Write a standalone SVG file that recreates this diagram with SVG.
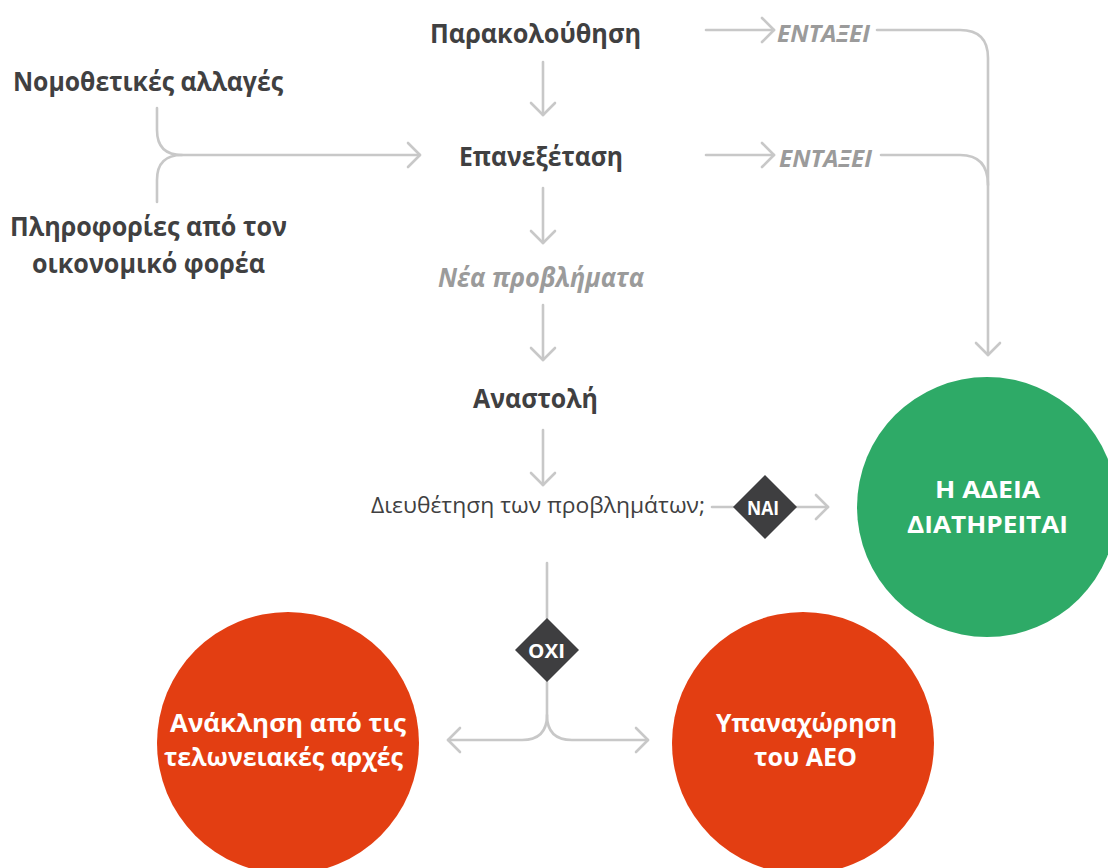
<svg xmlns="http://www.w3.org/2000/svg" width="1108" height="868" viewBox="0 0 1108 868">
<defs>
<marker id="chev" markerUnits="userSpaceOnUse" markerWidth="30" markerHeight="30" viewBox="-15 -15 30 30" refX="0" refY="0" orient="auto">
<path d="M-12,-12 L0,0 L-12,12" fill="none" stroke="#c8c8c8" stroke-width="2.6" stroke-linecap="round" stroke-linejoin="round"/>
</marker>
<style>
text{font-family:"Open Sans","Noto Sans",sans-serif}
.lbl{font-weight:bold;font-size:27px;fill:#404041;text-anchor:middle}
.gray{font-weight:bold;font-style:italic;fill:#9b9b9b}
.reg{font-size:22.5px;fill:#404041}
.wt{font-weight:bold;font-size:25px;fill:#ffffff;text-anchor:middle}
.wg{font-weight:bold;font-size:24px;fill:#ffffff;text-anchor:middle}
.dt{font-weight:bold;font-size:19px;fill:#ffffff;text-anchor:middle}
.ln{fill:none;stroke:#c8c8c8;stroke-width:2.6;stroke-linecap:round}
.arr{marker-end:url(#chev)}
</style>
</defs>
<rect width="1108" height="868" fill="#ffffff"/>

<g id="connectors">
<path class="ln arr" d="M543,62 V115"/>
<path class="ln arr" d="M543,188 V243"/>
<path class="ln arr" d="M543,305 V360"/>
<path class="ln arr" d="M543,430 V485"/>
<path class="ln arr" d="M157,108 V130 Q157,155 182,155 H420"/>
<path class="ln" d="M157,202 V180 Q157,155 182,155"/>
<path class="ln arr" d="M706,30 H774"/>
<path class="ln arr" d="M877,30 H960 Q988,30 988,58 V355"/>
<path class="ln arr" d="M706,155 H774"/>
<path class="ln" d="M881,155 H960 Q988,155 988,185"/>
<path class="ln" d="M712,507 H733"/>
<path class="ln arr" d="M795,507 H828"/>
<path class="ln" d="M547,563 V618"/>
<path class="ln arr" d="M547,682 V715 Q547,740 522,740 H448"/>
<path class="ln arr" d="M547,715 Q547,740 572,740 H648"/>
</g>

<g id="n-parakolouthisi"><text class="lbl" x="535.5" y="43" textLength="211" lengthAdjust="spacingAndGlyphs">Παρακολούθηση</text></g>
<g id="n-nomothetikes"><text class="lbl" x="148" y="91" textLength="270" lengthAdjust="spacingAndGlyphs">Νομοθετικές αλλαγές</text></g>
<g id="n-plirofories"><text class="lbl" x="148.5" y="236" textLength="277" lengthAdjust="spacingAndGlyphs">Πληροφορίες από τον</text><text class="lbl" x="148.5" y="273" textLength="233" lengthAdjust="spacingAndGlyphs">οικονομικό φορέα</text></g>
<g id="n-epanexetasi"><text class="lbl" x="541" y="166" textLength="164" lengthAdjust="spacingAndGlyphs">Επανεξέταση</text></g>
<g id="n-entaxei1"><text class="gray" x="777" y="42" font-size="23" textLength="93" lengthAdjust="spacingAndGlyphs">ΕΝΤΑΞΕΙ</text></g>
<g id="n-entaxei2"><text class="gray" x="779" y="167" font-size="23" textLength="93" lengthAdjust="spacingAndGlyphs">ΕΝΤΑΞΕΙ</text></g>
<g id="n-nea"><text class="gray" x="541" y="287" font-size="26" text-anchor="middle" textLength="206" lengthAdjust="spacingAndGlyphs">Νέα προβλήματα</text></g>
<g id="n-anastoli"><text class="lbl" x="535.5" y="408" textLength="125" lengthAdjust="spacingAndGlyphs">Αναστολή</text></g>
<g id="n-dieuthetisi"><text class="reg" x="371" y="513" textLength="334" lengthAdjust="spacingAndGlyphs">Διευθέτηση των προβλημάτων;</text></g>
<g id="n-nai"><path d="M765,475 L797,507 L765,539 L733,507 Z" fill="#3e3e40"/><text class="dt" x="763" y="515" textLength="32" lengthAdjust="spacingAndGlyphs">ΝΑΙ</text></g>
<g id="n-oxi"><path d="M547,618 L579,650 L547,682 L515,650 Z" fill="#3e3e40"/><text class="dt" x="546.5" y="658" textLength="37" lengthAdjust="spacingAndGlyphs">ΟΧΙ</text></g>
<g id="n-adeia"><circle cx="987" cy="507" r="130" fill="#2eaa67"/><text class="wg" x="987.5" y="498" textLength="105" lengthAdjust="spacingAndGlyphs">Η ΑΔΕΙΑ</text><text class="wg" x="987.5" y="533" textLength="161" lengthAdjust="spacingAndGlyphs">ΔΙΑΤΗΡΕΙΤΑΙ</text></g>
<g id="n-anaklisi"><circle cx="288" cy="743" r="131" fill="#e33e12"/><text class="wt" x="288" y="732" textLength="236" lengthAdjust="spacingAndGlyphs">Ανάκληση από τις</text><text class="wt" x="283.5" y="766" textLength="239" lengthAdjust="spacingAndGlyphs">τελωνειακές αρχές</text></g>
<g id="n-ypanaxorisi"><circle cx="803" cy="743" r="131" fill="#e33e12"/><text class="wt" x="806.5" y="732" textLength="181" lengthAdjust="spacingAndGlyphs">Υπαναχώρηση</text><text class="wt" x="805.5" y="766" textLength="103" lengthAdjust="spacingAndGlyphs">του ΑΕΟ</text></g>
</svg>
